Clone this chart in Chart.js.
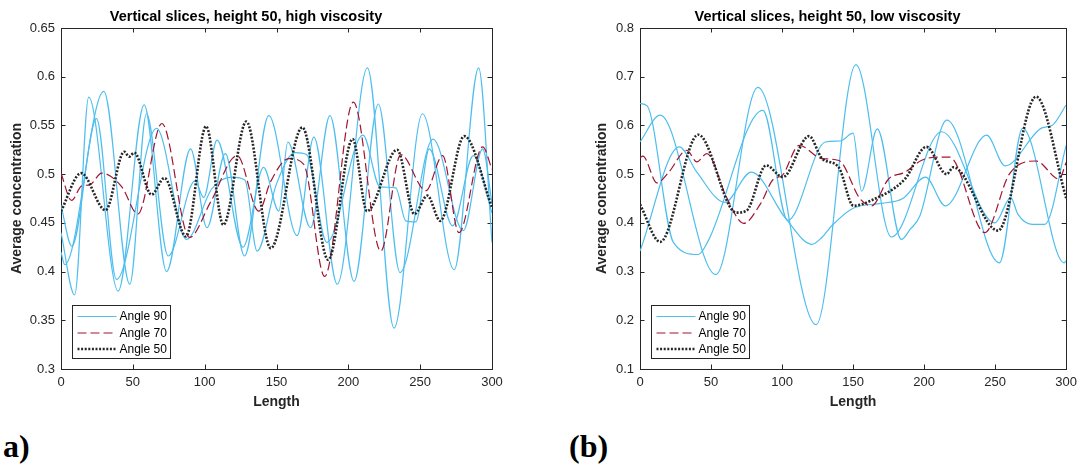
<!DOCTYPE html>
<html>
<head>
<meta charset="utf-8">
<script src="https://cdn.jsdelivr.net/npm/chart.js@4/dist/chart.umd.min.js"></script>
<style>
  body { margin: 0; background: #fff; }
  #wrap { position: relative; width: 1083px; height: 466px; overflow: hidden; background: #fff; }
  canvas { position: absolute; top: 0; }
  .tag { position: absolute; font-family: "Liberation Serif", serif; font-weight: bold; font-size: 32px; line-height: 32px; color: #000; }
</style>
</head>
<body>
<div id="wrap">
  <canvas id="chartHigh" width="540" height="420" style="left:0"></canvas>
  <canvas id="chartLow" width="543" height="420" style="left:540px"></canvas>
  <div class="tag" style="left:3px; top:430px">a)</div>
  <div class="tag" style="left:569px; top:430px">(b)</div>
</div>
<script>
// ---- data (x = length, y = average concentration) ----
const xTicks = [0, 50, 100, 150, 200, 250, 300];
const highYTicks = [0.3, 0.35, 0.4, 0.45, 0.5, 0.55, 0.6, 0.65];
const lowYTicks = [0.1, 0.2, 0.3, 0.4, 0.5, 0.6, 0.7, 0.8];
const legendLabels = ['Angle 90', 'Angle 70', 'Angle 50'];

// (a) high viscosity
const highBlue1X = [0, 9.5, 19.3, 39.8, 57.9, 73.5, 90.2, 101.6, 114.4, 127.7, 144.6, 164.4, 176, 192.3, 213.3, 231.8, 251.6, 273.7, 290.7, 300];
const highBlue1Y = [0.44, 0.376, 0.579, 0.38, 0.571, 0.40, 0.526, 0.445, 0.521, 0.416, 0.56, 0.437, 0.538, 0.387, 0.609, 0.342, 0.562, 0.402, 0.609, 0.43];
const highBlue2X = [0, 2.6, 29.8, 47.9, 59.5, 74.6, 93.3, 99.3, 108.6, 126.7, 141, 151.6, 157.9, 173.7, 187.2, 204, 220.9, 236, 259, 280, 293.5, 300];
const highBlue2Y = [0.42, 0.407, 0.585, 0.387, 0.562, 0.416, 0.493, 0.476, 0.535, 0.425, 0.507, 0.462, 0.533, 0.445, 0.56, 0.39, 0.572, 0.399, 0.536, 0.442, 0.526, 0.47];
const highBlue3X = [0, 7.5, 24.7, 38.6, 66.5, 87.4, 105, 119, 128, 136.5, 150, 163, 171, 185, 210.2, 222, 233, 240, 247, 256.3, 272.6, 287, 300];
const highBlue3Y = [0.468, 0.426, 0.557, 0.392, 0.547, 0.433, 0.485, 0.497, 0.494, 0.421, 0.49, 0.522, 0.52, 0.43, 0.54, 0.487, 0.486, 0.452, 0.451, 0.526, 0.447, 0.519, 0.46];
const highRedX = [0, 7.4, 14.4, 20, 28.4, 42.3, 53.5, 70.2, 89.5, 104, 122.6, 137.7, 145.8, 158.6, 169, 183.5, 203.5, 222.6, 236.5, 254, 265.6, 277, 293.5, 300];
const highRedY = [0.501, 0.473, 0.488, 0.489, 0.501, 0.487, 0.459, 0.552, 0.435, 0.471, 0.519, 0.462, 0.492, 0.516, 0.51, 0.395, 0.574, 0.421, 0.52, 0.483, 0.519, 0.44, 0.528, 0.505];
const highBlackX = [0, 14, 31, 44, 47.5, 51, 63, 72, 87, 101, 113, 129, 146, 168, 186, 203, 213, 234, 246, 255, 264, 280.7, 300];
const highBlackY = [0.462, 0.501, 0.463, 0.523, 0.518, 0.522, 0.479, 0.496, 0.436, 0.549, 0.448, 0.554, 0.424, 0.548, 0.412, 0.536, 0.462, 0.525, 0.459, 0.478, 0.452, 0.539, 0.466];

// (b) low viscosity
const lowBlue1X = [0, 5, 23.5, 41, 48, 86.5, 104, 130.5, 141, 150, 156, 167, 184, 190, 197, 216, 253, 269.4, 298.6, 300];
const lowBlue1Y = [0.645, 0.64, 0.36, 0.335, 0.363, 0.631, 0.405, 0.566, 0.568, 0.584, 0.465, 0.593, 0.366, 0.386, 0.414, 0.611, 0.318, 0.594, 0.318, 0.322];
const lowBlue2X = [0, 27.7, 40, 59.7, 78.3, 102.8, 121, 128, 135, 150, 170, 185, 201, 215, 244, 257, 283, 290, 300];
const lowBlue2Y = [0.342, 0.556, 0.504, 0.442, 0.504, 0.408, 0.356, 0.37, 0.394, 0.43, 0.44, 0.45, 0.494, 0.435, 0.58, 0.517, 0.595, 0.60, 0.642];
const lowBlue3X = [0, 14.2, 53.4, 83, 124, 152, 177, 212.4, 249.8, 261, 266, 276, 285, 300];
const lowBlue3Y = [0.566, 0.621, 0.294, 0.678, 0.191, 0.725, 0.371, 0.587, 0.40, 0.452, 0.418, 0.397, 0.397, 0.559];
const lowRedX = [0, 2, 12, 20, 33, 40, 47, 61, 73, 85, 94, 100, 112, 128, 140, 155, 163, 175, 186.5, 198, 209, 218, 242.7, 260, 278.8, 295, 300];
const lowRedY = [0.534, 0.537, 0.482, 0.503, 0.549, 0.525, 0.542, 0.452, 0.399, 0.44, 0.49, 0.497, 0.559, 0.532, 0.528, 0.449, 0.435, 0.49, 0.504, 0.528, 0.535, 0.535, 0.38, 0.50, 0.527, 0.49, 0.524];
const lowBlackX = [0, 14.2, 41, 67.8, 75, 88.8, 100.5, 119, 128.2, 139.9, 150.3, 162, 186.5, 201.6, 215.9, 220.5, 252, 278.8, 300];
const lowBlackY = [0.438, 0.361, 0.581, 0.421, 0.425, 0.518, 0.494, 0.578, 0.532, 0.514, 0.435, 0.445, 0.49, 0.556, 0.5, 0.514, 0.384, 0.659, 0.451];

// ---- styles ----
const BLUE = '#4DBEEE';
const RED = '#A2142F';
const BLACK = '#262626';
const AXIS = '#262626';
const FONT = "'Liberation Sans', Arial, sans-serif";

function pts(xs, ys) {
    return xs.map((x, i) => ({ x: x, y: ys[i] }));
}

function blue(xs, ys) {
    return { label: legendLabels[0], data: pts(xs, ys), borderColor: BLUE, borderWidth: 1.2, order: 2 };
}

function buildDatasets(b1, b2, b3, red, black) {
    return [
        blue(b1[0], b1[1]),
        blue(b2[0], b2[1]),
        blue(b3[0], b3[1]),
        { label: legendLabels[1], data: pts(red[0], red[1]), borderColor: RED, borderWidth: 1.2, borderDash: [9, 4], order: 1 },
        { label: legendLabels[2], data: pts(black[0], black[1]), borderColor: BLACK, borderWidth: 2.6, borderDash: [2, 1.6], order: 0 }
    ];
}

// box around the axes plus MATLAB-like inward ticks
const framePlugin = {
    id: 'frame',
    beforeDatasetsDraw(chart) {
        const { ctx, chartArea: a, scales } = chart;
        const tl = 4.5;
        ctx.save();
        ctx.strokeStyle = AXIS;
        ctx.lineWidth = 1;
        ctx.beginPath();
        scales.x.ticks.forEach(t => {
            const px = Math.round(scales.x.getPixelForValue(t.value)) + 0.5;
            ctx.moveTo(px, a.bottom); ctx.lineTo(px, a.bottom - tl);
            ctx.moveTo(px, a.top); ctx.lineTo(px, a.top + tl);
        });
        scales.y.ticks.forEach(t => {
            const py = Math.round(scales.y.getPixelForValue(t.value)) + 0.5;
            ctx.moveTo(a.left, py); ctx.lineTo(a.left + tl, py);
            ctx.moveTo(a.right, py); ctx.lineTo(a.right - tl, py);
        });
        ctx.stroke();
        ctx.strokeRect(Math.round(a.left) + 0.5, Math.round(a.top) + 0.5,
            Math.round(a.right - a.left), Math.round(a.bottom - a.top));
        ctx.restore();
    }
};

// legend box in the lower-left corner of the axes
const legendPlugin = {
    id: 'boxLegend',
    afterDatasetsDraw(chart) {
        const { ctx, chartArea: a } = chart;
        const bx = Math.round(a.left) + 11.5, by = Math.round(a.bottom) - 63.5, bw = 98, bh = 53;
        ctx.save();
        ctx.fillStyle = '#fff';
        ctx.fillRect(bx, by, bw, bh);
        ctx.strokeStyle = AXIS;
        ctx.lineWidth = 1;
        ctx.strokeRect(bx, by, bw, bh);
        const seen = [];
        chart.data.datasets.forEach(ds => {
            if (seen.find(d => d.label === ds.label)) return;
            seen.push(ds);
        });
        const rows = [11, 27.5, 43.5];
        seen.forEach((ds, i) => {
            const y = by + rows[i];
            ctx.strokeStyle = ds.borderColor;
            ctx.lineWidth = ds.borderWidth;
            ctx.setLineDash(ds.borderDash || []);
            ctx.beginPath();
            ctx.moveTo(bx + 5, y);
            ctx.lineTo(bx + 44, y);
            ctx.stroke();
            ctx.setLineDash([]);
            ctx.fillStyle = '#000';
            ctx.font = '12px ' + FONT;
            ctx.textBaseline = 'middle';
            ctx.textAlign = 'left';
            ctx.fillText(ds.label, bx + 47, y + 0.5);
        });
        ctx.restore();
    }
};

function makeChart(id, title, yTicks, datasets, padLeft, padRight, yWidth) {
    const ctx = document.getElementById(id).getContext('2d');
    return new Chart(ctx, {
        type: 'line',
        data: { datasets: datasets },
        options: {
            responsive: false,
            animation: false,
            events: [],
            devicePixelRatio: 1,
            layout: { padding: { left: padLeft, right: padRight, top: 0, bottom: 0 } },
            elements: {
                point: { radius: 0 },
                line: { cubicInterpolationMode: 'monotone', fill: false, borderCapStyle: 'butt' }
            },
            plugins: {
                legend: { display: false },
                tooltip: { enabled: false },
                title: {
                    display: true,
                    text: title,
                    color: '#000',
                    font: { family: FONT, size: 14.5, weight: 'bold', lineHeight: 1.2 },
                    padding: { top: 8, bottom: 2.6 }
                }
            },
            scales: {
                x: {
                    type: 'linear',
                    min: 0,
                    max: 300,
                    afterBuildTicks: s => { s.ticks = xTicks.map(v => ({ value: v })); },
                    afterFit: s => { s.height = 51; },
                    grid: { display: false, drawTicks: false },
                    border: { display: false },
                    ticks: { color: AXIS, font: { family: FONT, size: 13 }, padding: 6, maxRotation: 0, autoSkip: false },
                    title: { display: true, text: 'Length', color: AXIS, font: { family: FONT, size: 14, weight: 'bold', lineHeight: 1.2 }, padding: { top: 0, bottom: 9 } }
                },
                y: {
                    type: 'linear',
                    min: yTicks[0],
                    max: yTicks[yTicks.length - 1],
                    afterBuildTicks: s => { s.ticks = yTicks.map(v => ({ value: v })); },
                    afterFit: s => { s.width = yWidth; },
                    grid: { display: false, drawTicks: false },
                    border: { display: false },
                    ticks: {
                        color: AXIS,
                        font: { family: FONT, size: 13 },
                        padding: 6,
                        callback: v => String(parseFloat(Number(v).toFixed(2)))
                    },
                    title: { display: true, text: 'Average concentration', color: AXIS, font: { family: FONT, size: 14, weight: 'bold', lineHeight: 1.2 }, padding: { top: 9, bottom: 0 } }
                }
            }
        },
        plugins: [framePlugin, legendPlugin]
    });
}

makeChart('chartHigh', 'Vertical slices, height 50, high viscosity', highYTicks,
    buildDatasets([highBlue1X, highBlue1Y], [highBlue2X, highBlue2Y], [highBlue3X, highBlue3Y],
        [highRedX, highRedY], [highBlackX, highBlackY]),
    0, 48, 61);

makeChart('chartLow', 'Vertical slices, height 50, low viscosity', lowYTicks,
    buildDatasets([lowBlue1X, lowBlue1Y], [lowBlue2X, lowBlue2Y], [lowBlue3X, lowBlue3Y],
        [lowRedX, lowRedY], [lowBlackX, lowBlackY]),
    45, 13, 55);
</script>
</body>
</html>
